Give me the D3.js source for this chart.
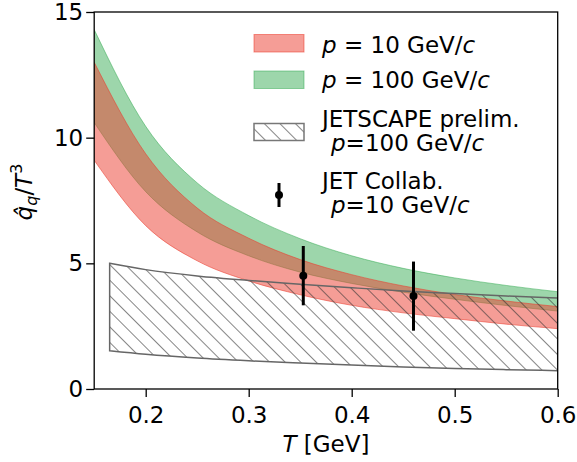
<!DOCTYPE html>
<html>
<head>
<meta charset="utf-8">
<script src="https://cdn.jsdelivr.net/npm/d3@7"></script>
<style>
  html, body { margin: 0; padding: 0; background: #fff; }
  svg { display: block; }
  text { font-family: "DejaVu Sans", sans-serif; fill: #000; }
</style>
</head>
<body>
<svg id="chart" width="577" height="462"></svg>
<script>
// ---- data ----
const bandT     = [0.15, 0.2, 0.25, 0.3, 0.35, 0.4, 0.45, 0.5, 0.55, 0.6];
const greenHi   = [14.3, 10.45, 8.2, 6.9, 5.98, 5.3, 4.8, 4.42, 4.12, 3.87];  // p = 100 GeV/c
const greenLo   = [10.6, 7.85, 6.25, 5.3, 4.65, 4.2, 3.85, 3.57, 3.32, 3.1];
const redHi     = [13.0, 9.36, 7.2, 6.0, 5.15, 4.55, 4.1, 3.76, 3.5, 3.28];   // p = 10 GeV/c
const redLo     = [9.1, 6.5, 5.1, 4.3, 3.75, 3.33, 3.03, 2.8, 2.58, 2.4];

const jsT       = [0.165, 0.2, 0.25, 0.3, 0.35, 0.4, 0.45, 0.5, 0.55, 0.6]; // JETSCAPE prelim.
const jsHi      = [5.0, 4.75, 4.5, 4.32, 4.17, 4.03, 3.9, 3.8, 3.7, 3.62];
const jsLo      = [1.52, 1.38, 1.23, 1.12, 1.03, 0.95, 0.88, 0.82, 0.77, 0.73];

const jetT      = [0.353, 0.46];   // JET Collab.
const jetVal    = [4.51, 3.70];
const jetLo     = [3.33, 2.32];
const jetHi     = [5.69, 5.07];

const xTicks    = [0.2, 0.3, 0.4, 0.5, 0.6];
const yTicks    = [0, 5, 10, 15];

// ---- layout ----
const svg = d3.select("#chart");
const L = 94.2, R = 557.7, Tp = 12, B = 389;
const x = d3.scaleLinear().domain([0.15, 0.6]).range([L, R]);
const y = d3.scaleLinear().domain([0, 15]).range([B, Tp]);
const FS = 23;

const defs = svg.append("defs");
defs.append("clipPath").attr("id", "plotclip")
  .append("rect").attr("x", L).attr("y", Tp).attr("width", R - L).attr("height", B - Tp);

function hatch(id) {
  const p = defs.append("pattern").attr("id", id)
    .attr("patternUnits", "userSpaceOnUse")
    .attr("width", 11).attr("height", 11)
    .attr("patternTransform", "rotate(-45)");
  p.append("line").attr("x1", 0).attr("y1", -2).attr("x2", 0).attr("y2", 13)
    .attr("stroke", "#333").attr("stroke-width", 1.2);
}
hatch("hatchPlot");
hatch("hatchLeg");

const greenCol = "rgb(50,170,80)";
const redCol = "rgb(235,60,45)";

const plot = svg.append("g").attr("clip-path", "url(#plotclip)");

function band(tArr, lo, hi) {
  const pts = tArr.map((t, i) => ({t, lo: lo[i], hi: hi[i]}));
  return d3.area().x(d => x(d.t)).y0(d => y(d.lo)).y1(d => y(d.hi))
    .curve(d3.curveMonotoneX)(pts);
}

plot.append("path").attr("d", band(bandT, greenLo, greenHi))
  .attr("fill", greenCol).attr("fill-opacity", 0.48)
  .attr("stroke", greenCol).attr("stroke-opacity", 0.5).attr("stroke-width", 1);
plot.append("path").attr("d", band(bandT, redLo, redHi))
  .attr("fill", redCol).attr("fill-opacity", 0.5)
  .attr("stroke", redCol).attr("stroke-opacity", 0.55).attr("stroke-width", 1);

plot.append("path").attr("d", band(jsT, jsLo, jsHi))
  .attr("fill", "url(#hatchPlot)")
  .attr("stroke", "#666").attr("stroke-width", 1.5);

// JET points
const jet = svg.append("g");
jetT.forEach((t, i) => {
  jet.append("line").attr("x1", x(t)).attr("x2", x(t))
    .attr("y1", y(jetLo[i])).attr("y2", y(jetHi[i]))
    .attr("stroke", "#000").attr("stroke-width", 3);
  jet.append("circle").attr("cx", x(t)).attr("cy", y(jetVal[i])).attr("r", 4).attr("fill", "#000");
});

// ---- axes ----
const xAxis = d3.axisBottom(x).tickValues(xTicks).tickSize(8).tickPadding(4).tickFormat(d3.format(".1f"));
const yAxis = d3.axisLeft(y).tickValues(yTicks).tickSize(8).tickPadding(3).tickFormat(d3.format("d"));

const gx = svg.append("g").attr("transform", `translate(0,${B})`).call(xAxis);
const gy = svg.append("g").attr("transform", `translate(${L},0)`).call(yAxis);
[gx, gy].forEach(g => {
  g.selectAll(".domain").remove();
  g.selectAll(".tick line").attr("stroke", "#000").attr("stroke-width", 1.3);
  g.selectAll(".tick text").attr("font-size", FS).attr("font-family", "DejaVu Sans").attr("fill", "#000");
});
gx.selectAll(".tick text").attr("dy", null).attr("y", 0).attr("transform", "translate(0,34)");

svg.append("rect").attr("x", L).attr("y", Tp).attr("width", R - L).attr("height", B - Tp)
  .attr("fill", "none").attr("stroke", "#000").attr("stroke-width", 1.3);

// axis labels
const xl = svg.append("text").attr("x", (L + R) / 2).attr("y", 452)
  .attr("text-anchor", "middle").attr("font-size", FS);
xl.append("tspan").attr("font-style", "italic").text("T");
xl.append("tspan").text(" [GeV]");

const yl = svg.append("text").attr("transform", "translate(31.5,192) rotate(-90)")
  .attr("text-anchor", "middle").attr("font-size", FS);
yl.append("tspan").attr("font-style", "italic").text("q\u0302");
yl.append("tspan").attr("font-style", "italic").attr("font-size", 16).attr("dy", 5).text("q");
yl.append("tspan").attr("dy", -5).text("/");
yl.append("tspan").attr("font-style", "italic").text("T");
yl.append("tspan").attr("font-size", 16).attr("dy", -10).text("3");

// ---- legend ----
const leg = svg.append("g");
const px = 254, pw = 50;
leg.append("rect").attr("x", px).attr("y", 34.5).attr("width", pw).attr("height", 17.5)
  .attr("fill", redCol).attr("fill-opacity", 0.5).attr("stroke", redCol).attr("stroke-opacity", 0.55);
leg.append("rect").attr("x", px).attr("y", 71).attr("width", pw).attr("height", 17.5)
  .attr("fill", greenCol).attr("fill-opacity", 0.48).attr("stroke", greenCol).attr("stroke-opacity", 0.5);
leg.append("rect").attr("x", px).attr("y", 123.5).attr("width", pw).attr("height", 17)
  .attr("fill", "url(#hatchLeg)").attr("stroke", "#777").attr("stroke-width", 1.5);
leg.append("line").attr("x1", 279).attr("x2", 279).attr("y1", 183).attr("y2", 207)
  .attr("stroke", "#000").attr("stroke-width", 3);
leg.append("circle").attr("cx", 279).attr("cy", 195).attr("r", 4).attr("fill", "#000");

function pLabel(xp, yp, rest, spaced) {
  const t = leg.append("text").attr("x", xp).attr("y", yp).attr("font-size", FS);
  t.append("tspan").attr("font-style", "italic").text("p");
  t.append("tspan").text(spaced ? " = " + rest + " GeV/" : "=" + rest + " GeV/");
  t.append("tspan").attr("font-style", "italic").text("c");
}
pLabel(322, 53, "10", true);
pLabel(322, 87.5, "100", true);
leg.append("text").attr("x", 322).attr("y", 126.5).attr("font-size", FS).text("JETSCAPE prelim.");
pLabel(331, 150.5, "100", false);
leg.append("text").attr("x", 322).attr("y", 188.5).attr("font-size", FS).text("JET Collab.");
pLabel(331, 212.5, "10", false);
</script>
</body>
</html>
